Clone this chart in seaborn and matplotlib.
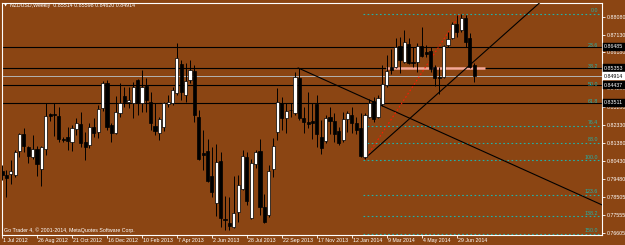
import numpy as np
import pandas as pd
import matplotlib
matplotlib.use("Agg")
import matplotlib.pyplot as plt
import matplotlib.transforms as mtransforms
import seaborn as sns

# ---------------- data (weekly NZDUSD, 1 Jul 2012 .. Jul 2014) ----------------
opens = [
    .7988, .7967, .7972, .7967, .8095, .8185, .8116, .8063, .8105, .7999,
    .8105, .8291, .8291, .8281, .8158, .8169, .8142, .8211, .8238, .8142,
    .8126, .8222, .8196, .8323, .8456, .8233, .8190, .8296, .8387, .8355,
    .8350, .8472, .8350, .8440, .8355, .8227, .8190, .8222, .8344, .8350,
    .8403, .8557, .8392, .8472, .8520, .8275, .8084, .8095, .7962, .7818,
    .8041, .7731, .7712, .7691, .7770, .7893, .8063, .7739, .8026, .8095,
    .7797, .7754, .7999, .8196, .8350, .8270, .8312, .8296, .8482, .8270,
    .8249, .8254, .8344, .8169, .8148, .8275, .8254, .8201, .8153, .8265,
    .8286, .8243, .8217, .8063, .8275, .8360, .8275, .8344, .8445, .8541,
    .8541, .8652, .8567, .8663, .8565, .8567, .8652, .8620, .8626, .8541,
    .8488, .8488, .8658, .8695, .8769, .8737, .8801, .8695, .85514]
highs = [
    .8020, .7994, .8047, .8100, .8190, .8217, .8121, .8180, .8121, .8121,
    .8350, .8296, .8350, .8328, .8169, .8222, .8233, .8270, .8302, .8196,
    .8243, .8270, .8339, .8466, .8472, .8243, .8387, .8456, .8435, .8435,
    .8461, .8477, .8525, .8482, .8408, .8350, .8275, .8355, .8392, .8435,
    .8668, .8578, .8562, .8578, .8551, .8312, .8206, .8158, .8116, .8132,
    .8089, .7855, .7850, .7962, .7967, .8100, .8089, .8052, .8100, .8158,
    .7866, .8020, .8164, .8429, .8381, .8350, .8350, .8514, .8536, .8328,
    .8408, .8350, .8392, .8259, .8286, .8328, .8296, .8222, .8302, .8307,
    .8328, .8275, .8296, .8296, .8371, .8381, .8392, .8551, .8604, .8636,
    .8695, .8700, .8737, .8695, .8647, .8668, .8753, .8658, .8647, .8551,
    .8541, .8658, .8727, .8780, .8817, .8822, .8818, .8721, .85598]
lows = [
    .7941, .7850, .7919, .7956, .8063, .8089, .8031, .8052, .7962, .7909,
    .8073, .8254, .8174, .8142, .8142, .8100, .8095, .8180, .8116, .8047,
    .8111, .8169, .8164, .8307, .8206, .8142, .8185, .8275, .8328, .8323,
    .8270, .8286, .8302, .8302, .8206, .8180, .8153, .8201, .8328, .8339,
    .8392, .8366, .8355, .8456, .8249, .8047, .7994, .7930, .7850, .7749,
    .7691, .7675, .7675, .7686, .7717, .7887, .7808, .7733, .8004, .7754,
    .7712, .7744, .7956, .8153, .8206, .8190, .8275, .8286, .8259, .8190,
    .8217, .8158, .8116, .8079, .8137, .8185, .8142, .8126, .8142, .8196,
    .8190, .8185, .8063, .8052, .8270, .8249, .8270, .8334, .8435, .8504,
    .8536, .8509, .8562, .8557, .8541, .8514, .8594, .8594, .8514, .8440,
    .8397, .8482, .8647, .8690, .8700, .8727, .8647, .8536, .84620]
closes = [
    .7967, .7951, .7990, .8091, .8185, .8121, .8068, .8105, .8026, .8116,
    .8281, .8281, .8288, .8158, .8153, .8148, .8217, .8243, .8137, .8116,
    .8222, .8190, .8318, .8456, .8222, .8190, .8302, .8350, .8355, .8366,
    .8435, .8350, .8435, .8366, .8243, .8201, .8265, .8350, .8355, .8419,
    .8589, .8408, .8466, .8525, .8286, .8052, .8073, .7935, .7877, .8036,
    .7739, .7728, .7696, .7765, .7914, .8068, .7829, .8031, .8089, .7797,
    .7717, .7988, .8121, .8355, .8270, .8307, .8310, .8488, .8270, .8249,
    .8238, .8243, .8185, .8111, .8270, .8254, .8185, .8137, .8265, .8296,
    .8243, .8206, .8068, .8286, .8350, .8265, .8376, .8451, .8520, .8525,
    .8647, .8578, .8674, .8562, .8560, .8652, .8599, .8612, .8530, .8482,
    .8482, .8652, .8690, .8769, .8727, .8801, .8674, .8541, .84914]

date_labels = ["1 Jul 2012", "26 Aug 2012", "21 Oct 2012", "16 Dec 2012",
               "10 Feb 2013", "7 Apr 2013", "2 Jun 2013", "28 Jul 2013",
               "22 Sep 2013", "17 Nov 2013", "12 Jan 2014", "9 Mar 2014",
               "4 May 2014", "29 Jun 2014"]
date_label_bars = [0, 8, 16, 24, 32, 40, 48, 56, 64, 72, 80, 88, 96, 104]

price_ticks = [0.88080, 0.87130, 0.86180, 0.84280, 0.83280, 0.82330,
               0.81380, 0.80430, 0.79480, 0.78505, 0.77555, 0.76605]
hline_levels = [0.86485, 0.85353, 0.84437, 0.83511]
bid_price = 0.84914

fib_names = ["0.0", "23.6", "38.2", "50.0", "61.8", "76.4", "88.0",
             "100.0", "123.6", "138.2", "150.0"]
fib_ratios = [0.0, 0.236, 0.382, 0.5, 0.618, 0.764, 0.88, 1.0, 1.236, 1.382, 1.5]
fib_high = 0.8823
fib_low = 0.8045
fib_start_bar = 82.6

trend_down_bars = [67.7, 140.0]
trend_down_prices = [0.8536, 0.7779]
trend_up_bars = [83.0, 126.0]
trend_up_prices = [0.8055, 0.8945]
fib_base_bars = [83.0, 104.8]
fib_base_prices = [0.8050, 0.8822]
pink_bars = [87.8, 110.5]
pink_prices = [0.8537, 0.8537]

title_text = "NZDUSD,Weekly  0.85514 0.85598 0.84620 0.84914"
footer_text = "Go Trader 4, \u00a9 2001-2014, MetaQuotes Software Corp."

assert len(opens) == len(highs) == len(lows) == len(closes)

# ---------------- style ----------------
BG = "#8b4513"
TEAL = "#20b2aa"
sns.set_theme(style="dark", rc={"axes.facecolor": BG, "figure.facecolor": BG})
plt.rcParams["font.family"] = ["Liberation Sans", "DejaVu Sans"]
FS = 3.8

W, H = 625, 245
fig = plt.figure(figsize=(W / 100, H / 100), dpi=100)
fig.patch.set_facecolor(BG)
left_px, right_px, top_px, bot_px = 2.0, 601.7, 2.7, 235.0
ax = fig.add_axes([left_px / W, (H - bot_px) / H, (right_px - left_px) / W,
                   (bot_px - top_px) / H])
ax.set_facecolor(BG)
ax.grid(False)

df = pd.DataFrame({"bar": np.arange(len(opens)), "open": opens, "high": highs,
                   "low": lows, "close": closes})
df["up"] = df["close"] >= df["open"]
df["body_lo"] = df[["open", "close"]].min(axis=1)
df["body_h"] = (df["close"] - df["open"]).abs().clip(lower=0.00035)

# horizontal black lines & bid line
for lvl in hline_levels:
    ax.axhline(lvl, color="black", lw=0.8, zorder=2)
ax.axhline(bid_price, color="#b4b4b4", lw=0.7, zorder=2)

# fibonacci levels
rng = fib_high - fib_low
for name, r in zip(fib_names, fib_ratios):
    lvl = fib_high - r * rng
    if name not in ("23.6", "38.2", "50.0", "61.8"):
        ax.plot([fib_start_bar, 140], [lvl, lvl], color=TEAL, lw=0.8,
                ls=(0, (1.5, 2.2)), zorder=2)
    ax.text(136.3, lvl + 0.0003, name, color=TEAL, fontsize=FS,
            ha="right", va="bottom", zorder=5)

# pink segment
ax.plot(pink_bars, pink_prices, color="#f5a898", lw=1.8, zorder=3, solid_capstyle="butt")

# trend lines
tl = pd.DataFrame({"x": trend_down_bars, "y": trend_down_prices})
sns.lineplot(data=tl, x="x", y="y", ax=ax, color="black", lw=0.8, zorder=3)
tu = pd.DataFrame({"x": trend_up_bars, "y": trend_up_prices})
sns.lineplot(data=tu, x="x", y="y", ax=ax, color="black", lw=0.8, zorder=3)
ax.plot(fib_base_bars, fib_base_prices, color="#ff1a00", lw=0.8,
        ls=(0, (1.5, 2)), zorder=3)

# candles
ax.vlines(df["bar"], df["low"], df["high"], color="black", lw=0.7, zorder=4)
up = df[df["up"]]
dn = df[~df["up"]]
ax.bar(up["bar"], up["body_h"], bottom=up["body_lo"], width=0.72,
       color="white", edgecolor="black", linewidth=0.5, zorder=5)
ax.bar(dn["bar"], dn["body_h"], bottom=dn["body_lo"], width=0.72,
       color="black", edgecolor="black", linewidth=0.5, zorder=5)

# axes limits
ax.set_xlim((left_px - 1.7) / 4.375, (right_px - 1.7) / 4.375)
ax.set_ylim(0.76483, 0.88824)

for s in ax.spines.values():
    s.set_color("white")
    s.set_linewidth(0.8)
    s.set_visible(True)

# right price axis
ax.yaxis.tick_right()
ax.set_yticks(price_ticks)
ax.set_yticklabels([f"{v:.5f}" for v in price_ticks])
ax.tick_params(axis="y", length=2.2, width=0.6, color="white",
               labelcolor="white", labelsize=FS, pad=1.2, right=True, left=False)
ax.set_ylabel("")

# bottom date axis
ax.set_xticks(date_label_bars)
ax.set_xticklabels([])
ax.tick_params(axis="x", length=2.2, width=0.6, color="white", bottom=True)
ax.set_xlabel("")
tr = mtransforms.blended_transform_factory(ax.transData, fig.transFigure)
for b, lab in zip(date_label_bars, date_labels):
    ax.text(b + 0.3, 1 - 240.0 / H, lab, transform=tr, color="white",
            fontsize=FS, ha="left", va="center", clip_on=False)

# boxed right-axis labels
trb = mtransforms.blended_transform_factory(ax.transAxes, ax.transData)
for lvl in hline_levels:
    ax.text(1.004, lvl, f"{lvl:.5f}", transform=trb, color="white",
            fontsize=FS, ha="left", va="center", clip_on=False, zorder=10,
            bbox=dict(boxstyle="square,pad=0.3", fc="black", ec="black", lw=0.3))
ax.text(1.004, bid_price, f"{bid_price:.5f}", transform=trb, color="black",
        fontsize=FS, ha="left", va="center", clip_on=False, zorder=10,
        bbox=dict(boxstyle="square,pad=0.3", fc="white", ec="white", lw=0.3))

# title and footer
fig.text(4.0 / W, 1 - 5.7 / H, "\u25bc", color="white", fontsize=3,
         ha="left", va="center", family="DejaVu Sans")
fig.text(10.0 / W, 1 - 5.7 / H, title_text, color="white", fontsize=FS,
         ha="left", va="center")
fig.text(4.0 / W, 1 - 230.0 / H, footer_text, color="white", fontsize=FS,
         ha="left", va="center")

fig.savefig("out.png", dpi=100, facecolor=BG)
